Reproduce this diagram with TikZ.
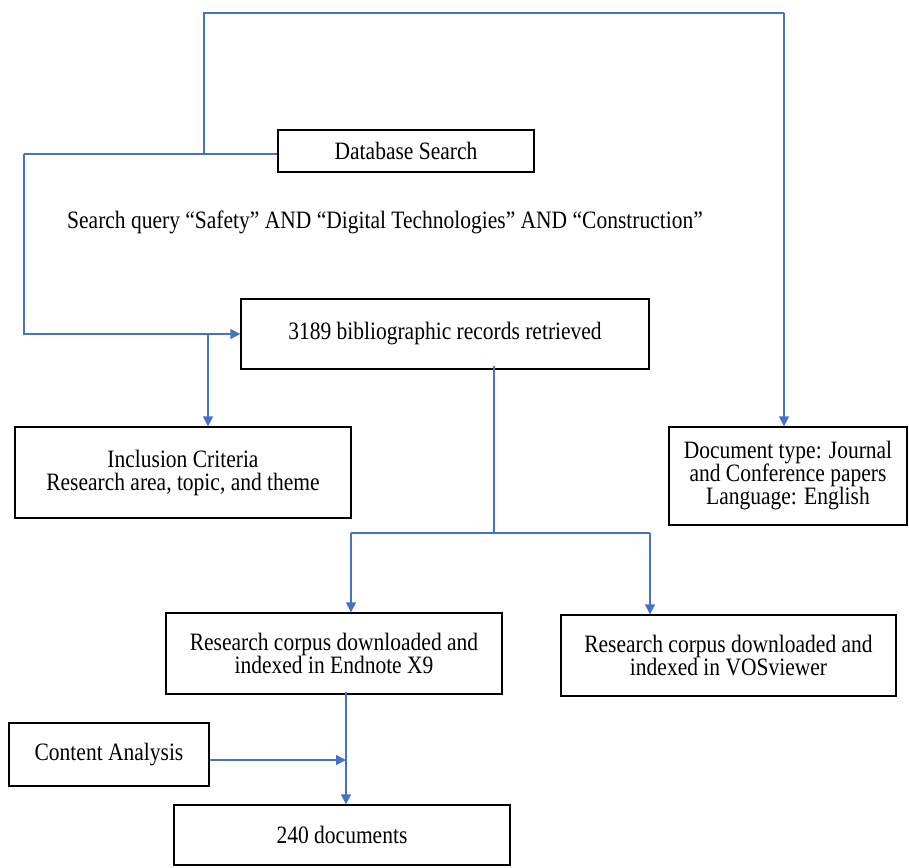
\documentclass[tikz,border=0pt]{standalone}
\usepackage{fontspec}
\setmainfont[FakeStretch=0.86]{Liberation Serif}
\usetikzlibrary{arrows.meta}
\definecolor{flowColor}{RGB}{68,114,196}
\tikzset{
  box/.style={draw=black, line width=1.4pt, align=center, inner sep=0pt,
    font=\fontsize{25}{23}\selectfont},
  flow/.style={draw=flowColor, line width=1.5pt},
  flowarrow/.style={flow, -{Triangle[width=10pt,length=10pt]}, fill=none},
}
\begin{document}
\begin{tikzpicture}[x=1pt,y=-1pt]
\path[use as bounding box,fill=white] (0,0) rectangle (909,867);

% boxes
\node[box, minimum width=256pt, minimum height=42pt] (dbsearch) at (406,151) {Database Search};
\node[font=\fontsize{25}{23}\selectfont, inner sep=0pt] (query) at (385,222)
  {Search query “Safety” AND “Digital Technologies” AND “Construction”};
\node[box, minimum width=408pt, minimum height=70pt] (records) at (445,334) {3189 bibliographic records retrieved};
\node[box, minimum width=336pt, minimum height=91pt] (inclusion) at (183,472.5)
  {Inclusion Criteria\\Research area, topic, and theme};
\node[box, minimum width=238pt, minimum height=98pt] (doctype) at (788,476)
  {Document type: Journal\\and Conference papers\\Language: English};
\node[box, minimum width=336pt, minimum height=81pt] (endnote) at (334,653.5)
  {Research corpus downloaded and\\indexed in Endnote X9};
\node[box, minimum width=335pt, minimum height=81pt] (vosviewer) at (728.5,655.5)
  {Research corpus downloaded and\\indexed in VOSviewer};
\node[box, minimum width=200pt, minimum height=63pt] (content) at (109,754.5) {Content Analysis};
\node[box, minimum width=336pt, minimum height=60pt] (docs) at (342,835) {240 documents};

% junctions
\coordinate (jleft) at (24,154);
\coordinate (jtop) at (204,154);
\coordinate (jright) at (784,13);
\coordinate (jincl) at (208,334);
\coordinate (jsplit) at (494,533);
\coordinate (jend) at (351,533);
\coordinate (jvos) at (650,533);
\coordinate (jdocs) at (346,760);

% connectors
\draw[flow] (dbsearch.west |- jleft) -- (jleft);
\draw[flowarrow] (jleft) |- (records.west);
\draw[flow] (jtop) |- (jright);
\draw[flowarrow] (jright) -- (jright |- doctype.north);
\draw[flowarrow] (jincl) -- (jincl |- inclusion.north);
\draw[flow] ([yshift=4pt]jsplit |- records.south) -- (jsplit);
\draw[flow] (jend) -- (jvos);
\draw[flowarrow] (jend) -- (jend |- endnote.north);
\draw[flowarrow] (jvos) -- (jvos |- vosviewer.north);
\draw[flowarrow] ([yshift=3pt]jdocs |- endnote.south) -- (jdocs |- docs.north);
\draw[flowarrow] (content.east |- jdocs) -- (jdocs);
\end{tikzpicture}
\end{document}
